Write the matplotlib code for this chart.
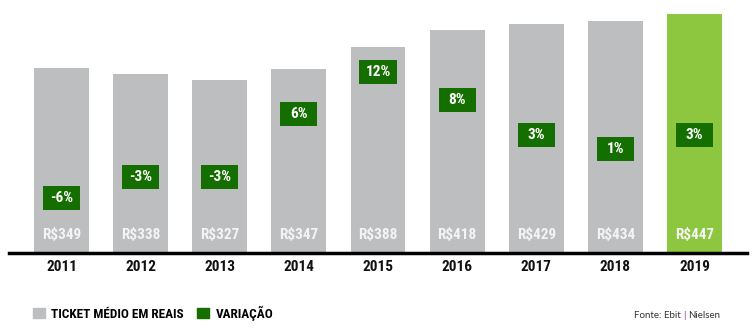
"""
Ticket medio em reais e variacao anual, 2011-2019
"""

import matplotlib.pyplot as plt
from matplotlib.patches import Patch
import numpy as np

#---------------------------------------------------------------------------------------------------
# Data
#---------------------------------------------------------------------------------------------------

years = ['2011', '2012', '2013', '2014', '2015', '2016', '2017', '2018', '2019']
ticket = [349, 338, 327, 347, 388, 418, 429, 434, 447]
variacao = [-6, -3, -3, 6, 12, 8, 3, 1, 3]

# Colors
c_gray = '#BDBEC0'
c_light = '#8DC63F'
c_dark = '#146E00'

#---------------------------------------------------------------------------------------------------
# Plot
#---------------------------------------------------------------------------------------------------

plt.rcParams['font.family'] = ['Roboto Condensed', 'Liberation Sans Narrow', 'DejaVu Sans Condensed',
                               'Roboto', 'DejaVu Sans']

fig = plt.figure(figsize=(7.55, 3.32), dpi=100)
ax = fig.add_axes([9/755, 79/332, 738/755, 253/332])

x = np.arange(len(years))
colors = [c_gray]*(len(years) - 1) + [c_light]
ax.bar(x, ticket, width=0.695, color=colors, bottom=0, zorder=2)
ax.set_xlim(-0.664, len(years) - 1 + 0.664)
ax.set_ylim(15, 472)

for xi, v in zip(x, ticket):
    ax.text(xi, 15 + 18/0.554, 'R$%d' % v, ha='center', va='center', color='#F4F4F4',
            fontsize=11, fontweight='bold', zorder=3)

# Baseline and year labels
for s in ['top', 'right', 'left']:
    ax.spines[s].set_visible(False)
ax.spines['bottom'].set_linewidth(2.5)
ax.spines['bottom'].set_color('black')
ax.spines['bottom'].set_zorder(4)
ax.set_yticks([])
ax.set_xticks(x)
ax.set_xticklabels(years, fontsize=11, fontweight='bold', color='#111111')
ax.tick_params(axis='x', length=0, pad=5)

# Variation boxes on a twin axis
ax2 = ax.twinx()
ax2.set_ylim(-13.86, 22.29)
ax2.set_axis_off()
box_h = 24/7.
ax2.bar(x, [box_h]*len(x), bottom=np.array(variacao) - box_h/2, width=0.468,
        color=c_dark, zorder=3)
for xi, v in zip(x, variacao):
    ax2.text(xi, v, '%d%%' % v, ha='center', va='center', color='white',
             fontsize=11, fontweight='bold', zorder=4)

# Legend
handles = [Patch(color=c_gray, label='TICKET MÉDIO EM REAIS'),
           Patch(color=c_dark, label='VARIAÇÃO')]
fig.legend(handles=handles, loc='center left', bbox_to_anchor=(33/755, 1 - 313/332),
           ncol=2, frameon=False, handlelength=0.9, handleheight=0.9,
           handletextpad=0.5, columnspacing=1.0, borderpad=0, borderaxespad=0,
           prop={'weight':'bold', 'size':9.5})

# Source
fig.text(681/755, 1 - 315/332, 'Fonte: Ebit', ha='right', va='center', fontsize=7,
         family='Lato', color='#333333')
fig.text(684/755, 1 - 315/332, '|', ha='center', va='center', fontsize=7,
         family='Lato', color='#7B2D8E')
fig.text(688/755, 1 - 315/332, 'Nielsen', ha='left', va='center', fontsize=7,
         family='Lato', color='#333333')

plt.savefig('out.png', dpi=100)
